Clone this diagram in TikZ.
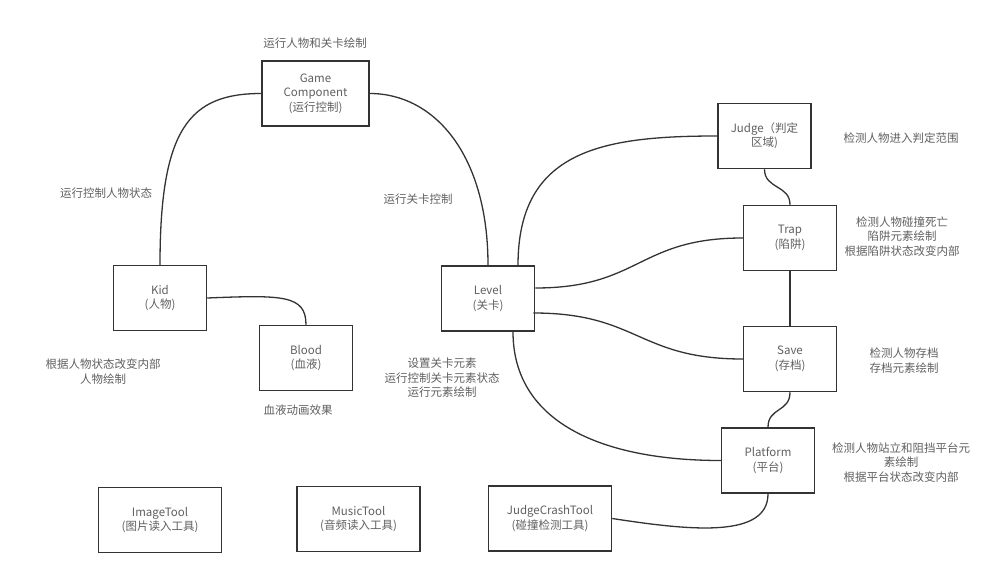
\documentclass[tikz,border=0pt]{standalone}
\usepackage{fontspec}
\setmainfont{Noto Sans CJK SC}
\usetikzlibrary{calc}
\definecolor{linec}{HTML}{333333}
\definecolor{textc}{HTML}{606060}
\begin{document}
\begin{tikzpicture}[x=1pt,y=-1pt,
  box/.style={draw=linec,line width=1.5pt,fill=white,inner sep=0pt,align=center,
    text=textc,font=\fontsize{11.5}{14.4}\selectfont,minimum width=93pt,minimum height=65pt},
  widebox/.style={box,minimum width=123pt},
  note/.style={inner sep=0pt,align=center,text=textc,font=\fontsize{11.5}{14.6}\selectfont},
  conn/.style={draw=linec,line width=1.3pt}]
\useasboundingbox (0,0) rectangle (1000,580);
% boxes
\node[box,minimum width=107pt] (game) at (315.5,93.5) {Game\\Component\\(运行控制)};
\node[box] (kid) at (160,298) {Kid\\(人物)};
\node[box] (blood) at (306,358) {Blood\\(血液)};
\node[box] (level) at (488,298.5) {Level\\(关卡)};
\node[box] (judge) at (764.5,136) {Judge（判定\\区域)};
\node[box] (trap) at (790,238) {Trap\\(陷阱)};
\node[box] (save) at (790,359) {Save\\(存档)};
\node[box] (platform) at (768,460.5) {Platform\\(平台)};
\node[widebox] (image) at (160,520) {ImageTool\\(图片读入工具)};
\node[widebox] (music) at (358.5,519) {MusicTool\\(音频读入工具)};
\node[widebox] (jct) at (550,518.5) {JudgeCrashTool\\(碰撞检测工具)};
% notes
\node[note] (n1) at (315,43) {运行人物和关卡绘制};
\node[note] (n2) at (106,193) {运行控制人物状态};
\node[note] (n3) at (418,199) {运行关卡控制};
\node[note] (n4) at (103,371.5) {根据人物状态改变内部\\人物绘制};
\node[note] (n5) at (298,410) {血液动画效果};
\node[note] (n6) at (442,378) {设置关卡元素\\运行控制关卡元素状态\\运行元素绘制};
\node[note] (n7) at (901,138) {检测人物进入判定范围};
\node[note] (n8) at (902,236.5) {检测人物碰撞死亡\\陷阱元素绘制\\根据陷阱状态改变内部};
\node[note] (n9) at (904,360.5) {检测人物存档\\存档元素绘制};
\node[note] (n10) at (901,462.5) {检测人物站立和阻挡平台元\\素绘制\\根据平台状态改变内部};
% connectors
\draw[conn] (game.west) .. controls +(-72,0) and +(0,-136) .. (kid.north);
\draw[conn] (game.east) .. controls +(65,0) and +(0,-110) .. (level.north);
\draw[conn] ([xshift=30pt]level.north) .. controls +(0,-115) and +(-115,0) .. (judge.west);
\draw[conn] ([yshift=10.5pt]level.east) .. controls +(105,0) and +(-105,0) .. (trap.west);
\draw[conn] ([yshift=-14.5pt,xshift=-2pt]level.east) .. controls +(105,0) and +(-105,0) .. (save.west);
\draw[conn] ([xshift=25pt]level.south) .. controls +(0,90) and +(-120,0) .. (platform.west);
\draw[conn] (kid.east) .. controls +(75,-3) and +(0,-30) .. (blood.north);
\draw[conn] (judge.south) .. controls +(0,20) and +(0,-20) .. (trap.north);
\draw[conn] (trap.south) -- (save.north);
\draw[conn] (save.south) .. controls +(0,20) and +(0,-20) .. (platform.north);
\draw[conn] (platform.south) .. controls +(0,45) and +(78,12) .. (jct.east);
\end{tikzpicture}
\end{document}
